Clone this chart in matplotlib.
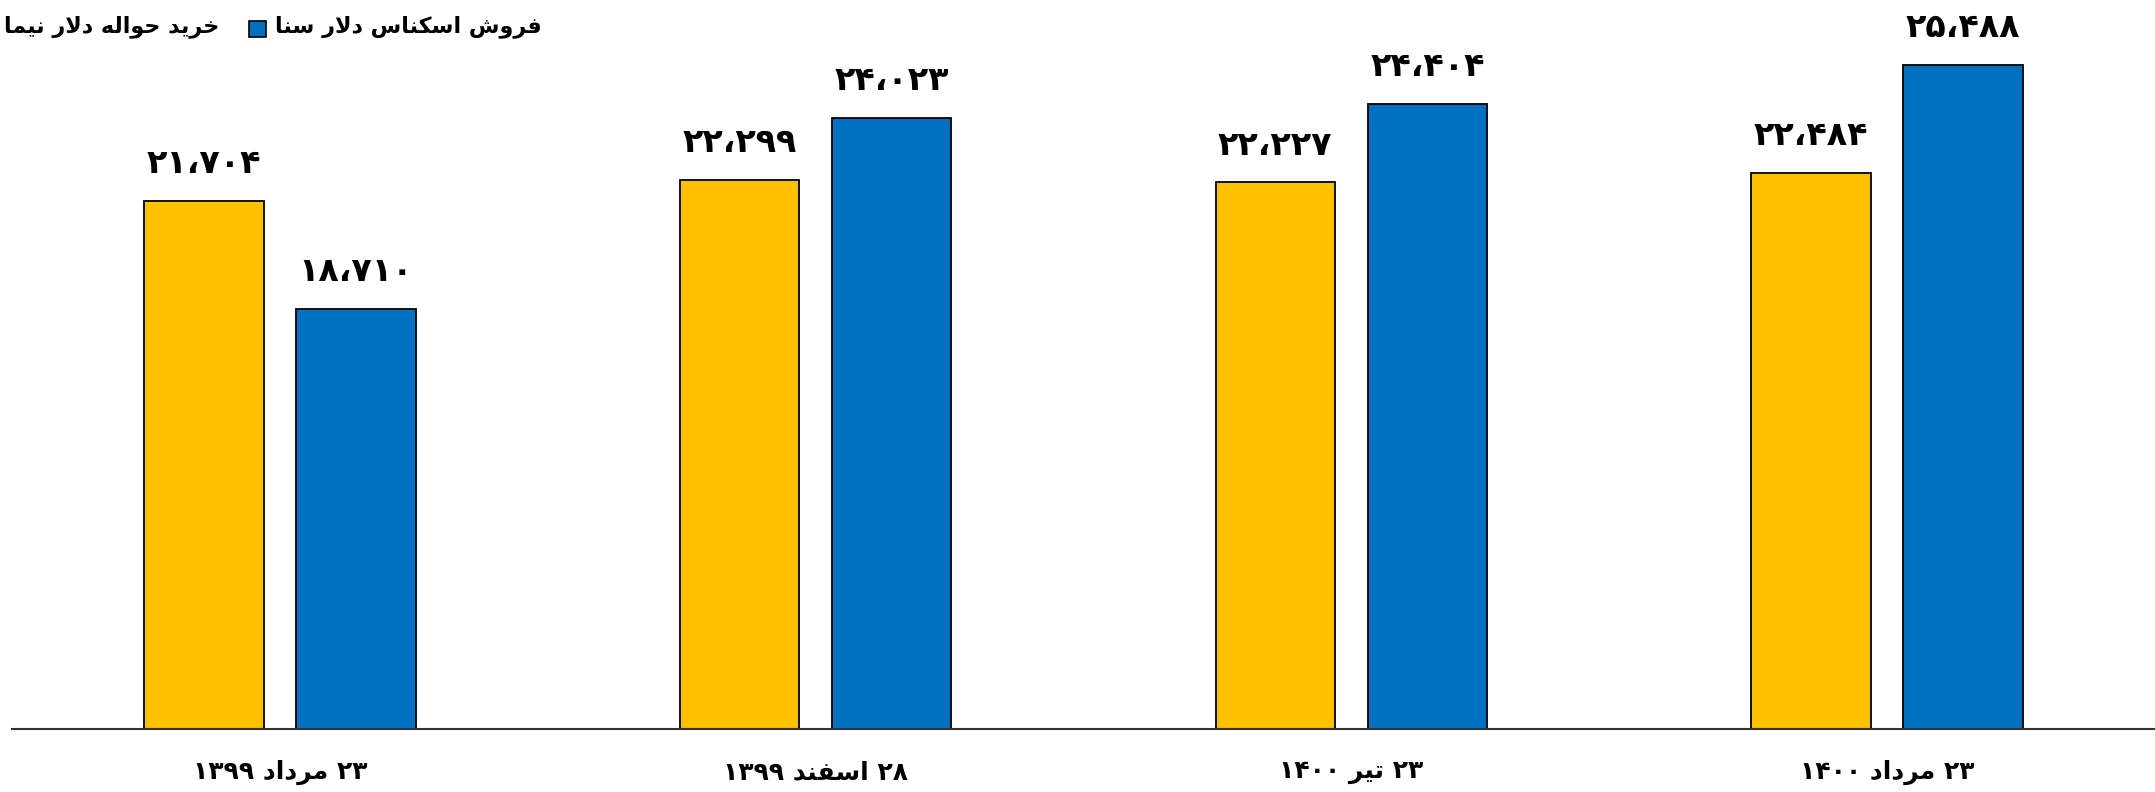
import matplotlib
matplotlib.use("Agg")
import matplotlib.pyplot as plt
from matplotlib.patches import Rectangle
import numpy as np

# chart data
categories = ["۲۳ مرداد ۱۳۹۹", "۲۸ اسفند ۱۳۹۹", "۲۳ تیر ۱۴۰۰", "۲۳ مرداد ۱۴۰۰"]
nima_buy = [21704, 22299, 22227, 22484]
sana_sell = [18710, 24023, 24404, 25488]
series_names = ["خرید حواله دلار نیما", "فروش اسکناس دلار سنا"]
colors = ["#FFC000", "#0070C0"]

# --- minimal Persian shaping (presentation forms) + RTL ordering ---
# (isolated, final, initial, medial)
FORMS = {
    "ا": (0xFE8D, 0xFE8E, None, None),
    "ب": (0xFE8F, 0xFE90, 0xFE91, 0xFE92),
    "ت": (0xFE95, 0xFE96, 0xFE97, 0xFE98),
    "ح": (0xFEA1, 0xFEA2, 0xFEA3, 0xFEA4),
    "خ": (0xFEA5, 0xFEA6, 0xFEA7, 0xFEA8),
    "د": (0xFEA9, 0xFEAA, None, None),
    "ر": (0xFEAD, 0xFEAE, None, None),
    "س": (0xFEB1, 0xFEB2, 0xFEB3, 0xFEB4),
    "ش": (0xFEB5, 0xFEB6, 0xFEB7, 0xFEB8),
    "ف": (0xFED1, 0xFED2, 0xFED3, 0xFED4),
    "ک": (0xFED9, 0xFEDA, 0xFEDB, 0xFEDC),
    "ل": (0xFEDD, 0xFEDE, 0xFEDF, 0xFEE0),
    "م": (0xFEE1, 0xFEE2, 0xFEE3, 0xFEE4),
    "ن": (0xFEE5, 0xFEE6, 0xFEE7, 0xFEE8),
    "ه": (0xFEE9, 0xFEEA, 0xFEEB, 0xFEEC),
    "و": (0xFEED, 0xFEEE, None, None),
    "ی": (0xFBFC, 0xFBFD, 0xFEF3, 0xFEF4),
}
DIGITS = "۰۱۲۳۴۵۶۷۸۹"


def joins_next(c):
    return c in FORMS and FORMS[c][2] is not None


def shape(text):
    res = []
    i = 0
    n = len(text)
    while i < n:
        c = text[i]
        if c not in FORMS:
            res.append(c)
            i += 1
            continue
        prev_join = i > 0 and joins_next(text[i - 1])
        if c == "ل" and i + 1 < n and text[i + 1] == "ا":
            res.append(chr(0xFEFC if prev_join else 0xFEFB))
            i += 2
            continue
        next_join = joins_next(c) and i + 1 < n and text[i + 1] in FORMS
        iso, fin, ini, med = FORMS[c]
        if prev_join and next_join:
            g = med
        elif prev_join:
            g = fin
        elif next_join:
            g = ini
        else:
            g = iso
        res.append(chr(g))
        i += 1
    return res


def visual(text):
    runs = []
    for g in shape(text):
        is_num = g in DIGITS
        if runs and runs[-1][0] == is_num:
            runs[-1][1].append(g)
        else:
            runs.append((is_num, [g]))
    out = []
    for is_num, chars in reversed(runs):
        out.extend(chars if is_num else reversed(chars))
    return "".join(out)


def fa_number(v):
    s = f"{v:,}".replace(",", "،")
    return s.translate(str.maketrans("0123456789", DIGITS))


plt.rcParams["font.family"] = ["DejaVu Sans"]

W, H = 2155, 792
fig = plt.figure(figsize=(W / 100, H / 100), dpi=100)
ax = fig.add_axes([12 / W, (H - 729.3) / H, 1 - 12 / W, 729.3 / H])

x = np.arange(len(categories))
width = 0.223
offset = 0.142
bars1 = ax.bar(x - offset, nima_buy, width, color=colors[0], edgecolor="black", linewidth=1.3)
bars2 = ax.bar(x + offset, sana_sell, width, color=colors[1], edgecolor="black", linewidth=1.3)

ymin = 7050
ax.set_ylim(ymin, ymin + 729.3 / 0.03604)
ax.set_xlim(-0.5, 3.5)

for bars, vals in [(bars1, nima_buy), (bars2, sana_sell)]:
    for b, v in zip(bars, vals):
        ax.annotate(fa_number(v), (b.get_x() + b.get_width() / 2, v),
                    xytext=(0, 20), textcoords="offset points",
                    ha="center", va="baseline", fontsize=24, fontweight="bold")

for s in ["left", "right", "top"]:
    ax.spines[s].set_visible(False)
ax.spines["bottom"].set_color("#333333")
ax.spines["bottom"].set_linewidth(1.5)
ax.set_yticks([])
ax.set_xticks(x)
ax.set_xticklabels([visual(c) for c in categories], fontsize=18, fontweight="bold")
ax.tick_params(axis="x", length=0, pad=22)

# legend drawn by hand at top-left (first marker falls off the canvas in the source)
fig.text(4 / W, 1 - 27 / H, visual(series_names[0]), ha="left", va="center",
         fontsize=16, fontweight="bold")
fig.patches.append(Rectangle((249 / W, 1 - 37 / H), 17 / W, 16 / H,
                             transform=fig.transFigure, facecolor=colors[1],
                             edgecolor="black", linewidth=1.2))
fig.text(275 / W, 1 - 27 / H, visual(series_names[1]), ha="left", va="center",
         fontsize=16, fontweight="bold")

fig.savefig("out.png", dpi=100)
